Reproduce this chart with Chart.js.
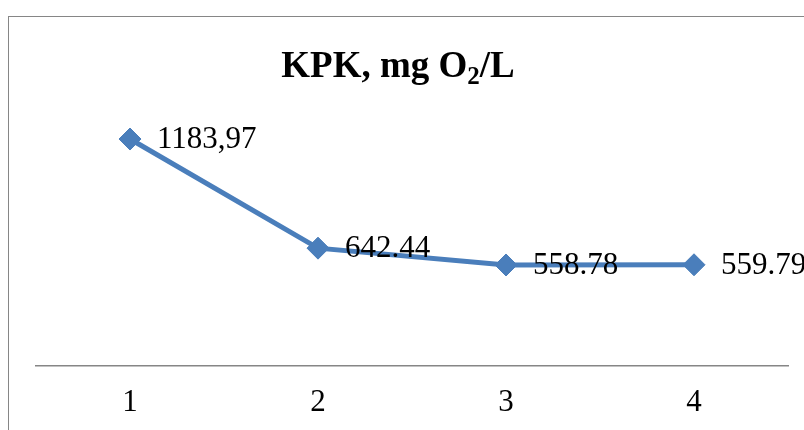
<!DOCTYPE html>
<html>
<head>
<meta charset="utf-8">
<script src="https://cdn.jsdelivr.net/npm/chart.js@4/dist/chart.umd.min.js"></script>
<style>
  html, body { margin: 0; padding: 0; background: #ffffff; }
  #wrap { width: 804px; height: 430px; position: relative; }
</style>
</head>
<body>
<div id="wrap"><canvas id="c" width="804" height="430"></canvas></div>
<script>
const categories = ['1', '2', '3', '4'];
const kpkValues = [1183.97, 642.44, 558.78, 559.79];
const pointLabels = ['1183,97', '642.44', '558.78', '559.79'];
const titleMain = 'KPK, mg O';
const titleSub = '2';
const titleEnd = '/L';

const frame = {
  id: 'frame',
  beforeDraw(chart) {
    const ctx = chart.ctx;
    ctx.save();
    ctx.fillStyle = '#ffffff';
    ctx.fillRect(0, 0, chart.width, chart.height);
    ctx.strokeStyle = '#868686';
    ctx.lineWidth = 1;
    ctx.strokeRect(8.5, 16.5, 1000, 1000);
    ctx.restore();
  }
};

const titlePlugin = {
  id: 'subTitle',
  afterDraw(chart) {
    const ctx = chart.ctx;
    ctx.save();
    ctx.fillStyle = '#000000';
    ctx.textBaseline = 'alphabetic';
    const big = 'bold 37px "Liberation Serif", "Times New Roman", serif';
    const small = 'bold 25px "Liberation Serif", "Times New Roman", serif';
    ctx.font = big;
    const w1 = ctx.measureText(titleMain).width;
    const w3 = ctx.measureText(titleEnd).width;
    ctx.font = small;
    const w2 = ctx.measureText(titleSub).width;
    const total = w1 + w2 + w3;
    let x = 398 - total / 2;
    const base = 77;
    ctx.textAlign = 'left';
    ctx.font = big;
    ctx.fillText(titleMain, x, base);
    x += w1;
    ctx.font = small;
    ctx.fillText(titleSub, x, base + 7);
    x += w2;
    ctx.font = big;
    ctx.fillText(titleEnd, x, base);
    ctx.restore();
  }
};

const labelPlugin = {
  id: 'pointLabels',
  afterDatasetsDraw(chart) {
    const ctx = chart.ctx;
    const meta = chart.getDatasetMeta(0);
    ctx.save();
    ctx.fillStyle = '#000000';
    ctx.font = '31px "Liberation Serif", "Times New Roman", serif';
    ctx.textAlign = 'left';
    ctx.textBaseline = 'middle';
    meta.data.forEach((pt, i) => {
      ctx.fillText(pointLabels[i], pt.x + 27, pt.y + 1);
    });
    ctx.restore();
  }
};

new Chart(document.getElementById('c'), {
  type: 'line',
  data: {
    labels: categories,
    datasets: [{
      data: kpkValues,
      borderColor: '#4a7ebb',
      backgroundColor: '#4a7ebb',
      borderWidth: 5,
      pointStyle: 'rectRot',
      pointRadius: 11,
      pointBorderWidth: 1,
      pointBorderColor: '#4a7ebb',
      pointBackgroundColor: '#4a7ebb',
      tension: 0,
      clip: false
    }]
  },
  options: {
    responsive: false,
    animation: false,
    devicePixelRatio: 1,
    layout: { padding: { top: 95.5, left: 36, right: 16, bottom: 0 } },
    plugins: {
      legend: { display: false },
      title: { display: false },
      tooltip: { enabled: false }
    },
    scales: {
      x: {
        offset: true,
        grid: { display: false, drawTicks: false },
        border: { display: true, color: '#868686', width: 1.5 },
        ticks: {
          color: '#000000',
          padding: 19,
          font: { family: '"Liberation Serif", "Times New Roman", serif', size: 31 }
        },
        afterFit(scale) { scale.height = 64.5; }
      },
      y: {
        display: false,
        min: 60,
        max: 1400
      }
    }
  },
  plugins: [frame, titlePlugin, labelPlugin]
});
</script>
</body>
</html>
